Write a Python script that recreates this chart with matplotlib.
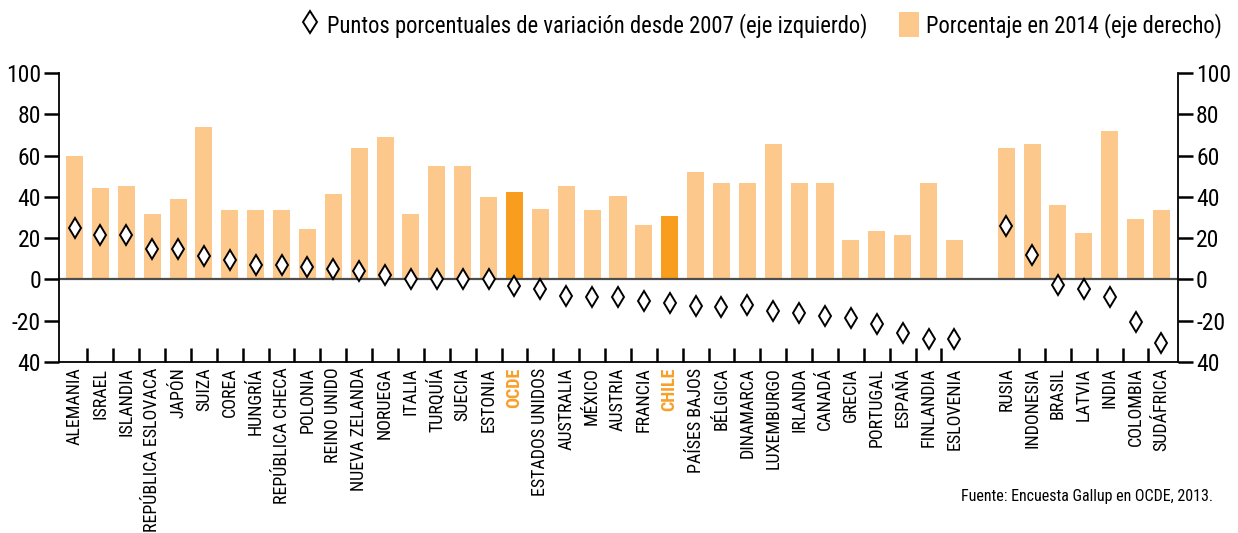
import numpy as np
import matplotlib
matplotlib.use("Agg")
import matplotlib.pyplot as plt
import matplotlib.font_manager as fm
from matplotlib.lines import Line2D
from matplotlib.patches import Patch
from matplotlib.ticker import FixedLocator, FixedFormatter

# ---------------- data ----------------
group_oecd = ["ALEMANIA", "ISRAEL", "ISLANDIA", "REPÚBLICA ESLOVACA", "JAPÓN", "SUIZA",
              "COREA", "HUNGRÍA", "REPÚBLICA CHECA", "POLONIA", "REINO UNIDO",
              "NUEVA ZELANDA", "NORUEGA", "ITALIA", "TURQUÍA", "SUECIA", "ESTONIA",
              "OCDE", "ESTADOS UNIDOS", "AUSTRALIA", "MÉXICO", "AUSTRIA", "FRANCIA",
              "CHILE", "PAÍSES BAJOS", "BÉLGICA", "DINAMARCA", "LUXEMBURGO", "IRLANDA",
              "CANADÁ", "GRECIA", "PORTUGAL", "ESPAÑA", "FINLANDIA", "ESLOVENIA"]
group_other = ["RUSIA", "INDONESIA", "BRASIL", "LATVIA", "INDIA", "COLOMBIA", "SUDÁFRICA"]

pct_2014 = [60, 44.5, 45.5, 31.5, 39, 74, 33.5, 33.5, 33.5, 24.5, 41.5, 63.5, 69, 31.5,
            55, 55, 40, 42.5, 34, 45.5, 33.5, 40.5, 26.5, 30.5, 52, 46.5, 46.5, 65.5,
            46.5, 46.5, 19, 23.5, 21.5, 46.5, 19,
            63.5, 65.5, 36, 22.5, 72, 29.5, 33.5]
change_since_2007 = [25, 21.5, 21.5, 14.5, 14.5, 11.5, 9.5, 7, 7, 6, 5, 4, 2, 0, 0, 0, 0,
                     -3, -4.5, -8, -8.5, -8.5, -10.5, -11.5, -13, -13.5, -12.5, -15.5,
                     -16.5, -17.5, -18.5, -21.5, -26, -29, -29,
                     26, 12, -2.5, -4.5, -8.5, -20.5, -31]
highlight = ["OCDE", "CHILE"]

y_ticks = [-40, -20, 0, 20, 40, 60, 80, 100]
y_tick_labels = ["40", "-20", "0", "20", "40", "60", "80", "100"]

legend_diamond = "Puntos porcentuales de variación desde 2007 (eje izquierdo)"
legend_bar = "Porcentaje en 2014 (eje derecho)"
source = "Fuente: Encuesta Gallup en OCDE, 2013."

# ---------------- font ----------------
entries = [(f.name, f.stretch) for f in fm.fontManager.ttflist]
names = {e[0] for e in entries}
family, stretch = "DejaVu Sans", "normal"
for cand in ["Roboto Condensed", "Noto Sans Condensed", "Liberation Sans Narrow",
             "Open Sans Condensed", "DejaVu Sans Condensed"]:
    if cand in names:
        family = cand
        break
else:
    for fam in ["Roboto", "Noto Sans", "Open Sans", "DejaVu Sans"]:
        st = [s for n, s in entries if n == fam and s not in ("normal", 500, "medium")]
        if any(str(s).endswith("condensed") or (isinstance(s, int) and s < 500) for s in st):
            family, stretch = fam, "condensed"
            break

plt.rcParams["font.family"] = [family, "DejaVu Sans"]
plt.rcParams["font.stretch"] = stretch

LIGHT = "#FDC88B"
DARK = "#F89D1E"
HL_TEXT = "#F7A02A"

categories = group_oecd + group_other
positions = np.concatenate([np.arange(len(group_oecd)),
                            len(group_oecd) + 1 + np.arange(len(group_other))])

W, H = 1238, 533
fig = plt.figure(figsize=(W / 100, H / 100), dpi=100)
ax = fig.add_axes([59 / W, 1 - 362 / H, (1178 - 59) / W, (362 - 73) / H])

colors = [DARK if c in highlight else LIGHT for c in categories]
ax.bar(positions, pct_2014, width=0.66, color=colors, zorder=1)
ax.axhline(0, color="#4d4d4d", lw=1.6, zorder=2)
ax.plot(positions, change_since_2007, ls="none", marker="d", ms=10.5, mfc="white",
        mec="black", mew=1.4, zorder=3)

ax.set_xlim(-0.6, 42.64)
ax.set_ylim(-40, 100)

ax.spines["top"].set_visible(False)
for s in ["left", "right", "bottom"]:
    ax.spines[s].set_linewidth(1.3)
    ax.spines[s].set_color("black")

ax.yaxis.set_major_locator(FixedLocator(y_ticks))
ax.yaxis.set_major_formatter(FixedFormatter(y_tick_labels))
ax.tick_params(axis="y", which="major", left=True, right=True, labelleft=True,
               labelright=True, direction="out", length=11, width=1.8,
               labelsize=17, pad=2)

ax.set_xticks(positions)
ax.set_xticklabels(categories, rotation=90, va="top", ha="center")
ax.tick_params(axis="x", which="major", length=0, labelsize=13, pad=4)
seps = [p + 0.5 for p in positions[:-1] if p + 1 in set(positions)]
ax.xaxis.set_minor_locator(FixedLocator(seps))
ax.tick_params(axis="x", which="minor", direction="in", length=10, width=1.8)
for lbl, c in zip(ax.get_xticklabels(), categories):
    if c in highlight:
        lbl.set_color(HL_TEXT)
        lbl.set_fontweight("bold")

handles = [Line2D([], [], ls="none", marker="d", ms=11.5, mfc="white", mec="black", mew=1.4),
           Patch(facecolor=LIGHT, edgecolor="none")]
fig.legend(handles, [legend_diamond, legend_bar], loc="center right",
           bbox_to_anchor=(1222 / W, 1 - 25 / H), ncol=2, frameon=False, fontsize=16.3,
           handlelength=0.9, handleheight=1.3, handletextpad=0.3, columnspacing=1.4,
           borderpad=0.0, borderaxespad=0.0)

fig.text(1213 / W, 1 - 497 / H, source, ha="right", va="center", fontsize=11.5)

fig.savefig("out.png", dpi=100)
